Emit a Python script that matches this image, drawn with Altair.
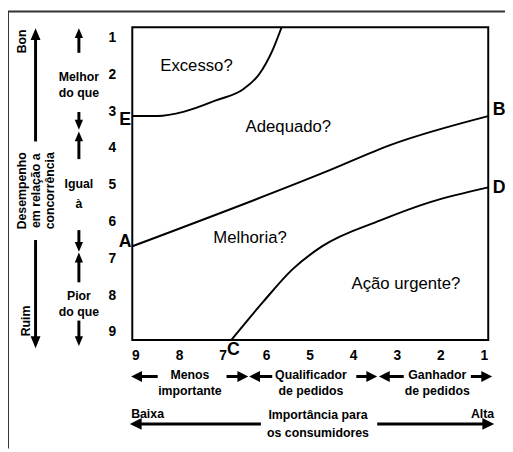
import altair as alt
import pandas as pd
import math

FONT = "Liberation Sans"
W, H = 505, 444
# scale domains in diagram units (x = importance 9..1, y = performance 1..9)
X_DOMAIN = [0.525, 11.938]
Y_DOMAIN = [0.2776, 12.157]
PX_X = W / (X_DOMAIN[1] - X_DOMAIN[0])
PX_Y = H / (Y_DOMAIN[1] - Y_DOMAIN[0])

# plot box
box_x, box_x2, box_y, box_y2 = [9.084], [0.910], [0.706], [9.206]

# boundary curves
curve_E_x = [9.084, 8.503, 7.893, 7.147, 6.537, 6.175, 5.859, 5.655]
curve_E_y = [3.12, 3.12, 3.0, 2.686, 2.391, 1.99, 1.32, 0.706]
line_AB_x = [9.084, 4.593, 3.147, 0.910]
line_AB_y = [6.659, 4.612, 3.903, 3.122]
curve_CD_x = [6.808, 6.085, 5.407, 4.729, 3.373, 2.243, 0.910]
curve_CD_y = [9.206, 8.179, 7.288, 6.664, 5.950, 5.460, 5.059]

# tick labels
tick_values = [1, 2, 3, 4, 5, 6, 7, 8, 9]
x_tick_row = 9.64
y_tick_col = 9.54

# corner letters
point_letters = ["E", "A", "B", "D", "C"]
point_x = [9.25, 9.25, 0.661, 0.661, 6.76]
point_y = [3.22, 6.54, 2.95, 5.09, 9.48]

# region labels
region_labels = ["Excesso?", "Adequado?", "Melhoria?", "Ação urgente?"]
region_x = [7.61, 5.50, 6.38, 2.80]
region_y = [1.75, 3.41, 6.43, 7.69]

# bottom annotations (centered)
bottom_labels = ["Menos", "importante", "Qualificador", "de pedidos", "Ganhador",
                 "de pedidos", "Importância para", "os consumidores"]
bottom_x = [7.76, 7.76, 4.98, 4.98, 2.08, 2.08, 4.82, 4.82]
bottom_y = [10.15, 10.59, 10.15, 10.59, 10.15, 10.59, 11.26, 11.73]

end_labels = ["Baixa", "Alta"]
end_x = [9.11, 0.774]
end_y = [11.22, 11.22]

# left annotations (horizontal)
side_labels = ["Melhor", "do que", "Igual", "à", "Pior", "do que"]
side_x = [10.31] * 6
side_y = [2.06, 2.49, 4.96, 5.50, 8.01, 8.44]

# left annotations (rotated)
rot_labels = ["Bon", "Ruim", "Desempenho", "em relação a", "concorrência"]
rot_x = [11.61, 11.52, 11.61, 11.30, 10.98]
rot_y = [1.09, 8.69, 5.15, 5.15, 5.15]

# arrows: tail -> tip
arrow_tail_x = [11.305, 11.305, 10.31, 10.31, 10.31, 10.31, 10.31, 10.31,
                8.50, 6.92, 5.87, 3.94, 2.85, 1.31, 6.13, 3.46]
arrow_tail_y = [3.81, 6.49, 1.40, 3.01, 4.29, 6.22, 7.64, 8.68,
                10.20, 10.20, 10.20, 10.20, 10.20, 10.20, 11.49, 11.49]
arrow_tip_x = [11.305, 11.305, 10.31, 10.31, 10.31, 10.31, 10.31, 10.31,
               9.11, 6.42, 6.40, 3.46, 3.42, 0.82, 9.14, 0.774]
arrow_tip_y = [0.732, 9.43, 0.732, 3.49, 3.54, 6.81, 6.83, 9.37,
               10.20, 10.20, 10.20, 10.20, 10.20, 10.20, 11.49, 11.49]
arrow_dir = ["up", "down", "up", "down", "up", "down", "up", "down",
             "left", "right", "left", "right", "left", "right", "left", "right"]
arrow_head = [12, 12, 10, 10, 10, 10, 10, 10, 11, 11, 11, 11, 11, 11, 12, 12]

xs = alt.Scale(domain=X_DOMAIN, reverse=True, nice=False, zero=False)
ys = alt.Scale(domain=Y_DOMAIN, reverse=True, nice=False, zero=False)


def X(f="x"):
    return alt.X(f"{f}:Q", scale=xs, axis=None)


def Y(f="y"):
    return alt.Y(f"{f}:Q", scale=ys, axis=None)


def text_layer(df, size, weight="bold", angle=0, align="center"):
    return alt.Chart(df).mark_text(font=FONT, fontSize=size, fontWeight=weight,
                                   angle=angle, align=align, baseline="middle",
                                   color="#000").encode(x=X(), y=Y(), text="t:N")


# frame (left and top border of the figure)
frame_df = pd.DataFrame({"a": [0]})
frame_left = alt.Chart(frame_df).mark_rule(color="#333", strokeWidth=2).encode(
    x=alt.value(0), y=alt.value(0), y2=alt.value(H))
frame_top = alt.Chart(frame_df).mark_rule(color="#333", strokeWidth=2).encode(
    x=alt.value(0), x2=alt.value(W), y=alt.value(0))

box = alt.Chart(pd.DataFrame({"x": box_x, "x2": box_x2, "y": box_y, "y2": box_y2})).mark_rect(
    fill=None, stroke="#000", strokeWidth=2).encode(
    x=X(), x2="x2:Q", y=Y(), y2="y2:Q")

curve_E = alt.Chart(pd.DataFrame({"x": curve_E_x, "y": curve_E_y})).mark_line(
    color="#000", strokeWidth=2, interpolate="monotone").encode(x=X(), y=Y())
line_AB = alt.Chart(pd.DataFrame({"x": line_AB_x, "y": line_AB_y})).mark_line(
    color="#000", strokeWidth=2, interpolate="monotone").encode(x=X(), y=Y())
curve_CD = alt.Chart(pd.DataFrame({"x": curve_CD_x, "y": curve_CD_y})).mark_line(
    color="#000", strokeWidth=2, interpolate="monotone").encode(x=X(), y=Y())

# ticks
xt = pd.DataFrame({"x": tick_values, "y": [x_tick_row] * 9, "t": [str(v) for v in tick_values]})
yt = pd.DataFrame({"x": [y_tick_col] * 9, "y": tick_values, "t": [str(v) for v in tick_values]})

letters = pd.DataFrame({"x": point_x, "y": point_y, "t": point_letters})
regions = pd.DataFrame({"x": region_x, "y": region_y, "t": region_labels})
bottom = pd.DataFrame({"x": bottom_x, "y": bottom_y, "t": bottom_labels})
ends_l = pd.DataFrame({"x": end_x[:1], "y": end_y[:1], "t": end_labels[:1]})
ends_r = pd.DataFrame({"x": end_x[1:], "y": end_y[1:], "t": end_labels[1:]})
side = pd.DataFrame({"x": side_x, "y": side_y, "t": side_labels})
rot = pd.DataFrame({"x": rot_x, "y": rot_y, "t": rot_labels})

# arrows: shaft ends at the neck of the head
necks_x, necks_y = [], []
for tx, ty, px_, py_, L in zip(arrow_tail_x, arrow_tail_y, arrow_tip_x, arrow_tip_y, arrow_head):
    d = math.hypot((tx - px_) * PX_X, (ty - py_) * PX_Y)
    f = (L * 0.7) / d
    necks_x.append(px_ + (tx - px_) * f)
    necks_y.append(py_ + (ty - py_) * f)

arrows = pd.DataFrame({
    "x": arrow_tail_x, "y": arrow_tail_y, "nx": necks_x, "ny": necks_y,
    "tx": arrow_tip_x, "ty": arrow_tip_y, "dir": arrow_dir,
    "size": [(2 * L) ** 2 for L in arrow_head],
})

shafts = alt.Chart(arrows).mark_rule(color="#000", strokeWidth=3).encode(
    x=X(), y=Y(), x2="nx:Q", y2="ny:Q")

head_paths = {
    "up": "M0,0L-0.42,1L0.42,1Z",
    "down": "M0,0L-0.42,-1L0.42,-1Z",
    "left": "M0,0L1,-0.5L1,0.5Z",
    "right": "M0,0L-1,-0.5L-1,0.5Z",
}
heads = alt.Chart(arrows).mark_point(filled=True, color="#000", opacity=1, strokeWidth=0).encode(
    x=X("tx"), y=Y("ty"),
    shape=alt.Shape("dir:N", scale=alt.Scale(domain=list(head_paths.keys()),
                                             range=list(head_paths.values())), legend=None),
    size=alt.Size("size:Q", scale=None, legend=None),
)

chart = alt.layer(
    frame_left, frame_top, box, curve_E, line_AB, curve_CD,
    text_layer(xt, 14), text_layer(yt, 14),
    text_layer(letters, 18),
    text_layer(regions, 17, weight="normal"),
    text_layer(bottom, 12.5),
    text_layer(ends_l, 12.5, align="left"),
    text_layer(ends_r, 12.5, align="right"),
    text_layer(side, 12.5),
    text_layer(rot, 12.5, angle=270),
    shafts, heads,
).properties(
    width=W, height=H, autosize=alt.AutoSizeParams(type="none"), padding=0,
    background="white",
).configure_view(stroke=None)

chart.save("out.html", embed_options={"renderer": "svg", "actions": False})
